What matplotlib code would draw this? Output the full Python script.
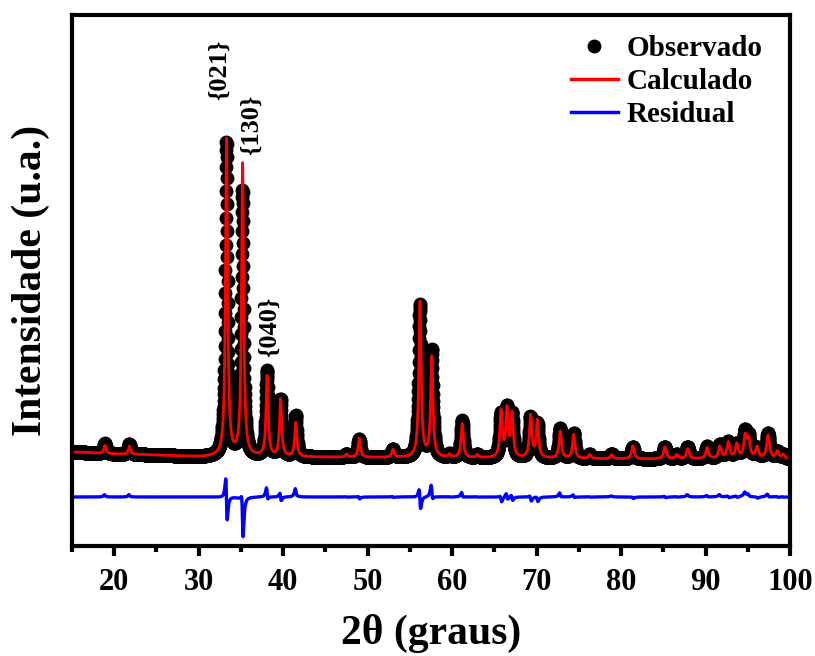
import numpy as np
import matplotlib
matplotlib.use("Agg")
import matplotlib.pyplot as plt
from matplotlib.lines import Line2D

plt.rcParams['font.family'] = ['Liberation Serif', 'DejaVu Serif']
plt.rcParams['font.weight'] = 'bold'

# ---- data (arbitrary intensity units) ----
peak_pos = [18.9, 21.8, 33.3, 35.2, 38.1, 39.7, 41.5, 47.5, 49.0, 53.0,
            56.2, 57.6, 59.7, 61.2, 63.0, 65.8, 66.5, 67.1, 69.3, 70.1,
            72.8, 74.4, 76.3, 78.9, 81.4, 85.2, 86.6, 87.9, 90.2, 91.7,
            92.7, 93.7, 94.7, 95.1, 96.1, 97.4, 98.5, 99.2]
obs_height = [10, 10, 314, 265, 85, 57, 41, 3, 18, 8,
              152, 107, 3, 37, 3, 43, 48, 42, 40, 34,
              30, 25, 4, 5, 12, 12, 4, 12, 12, 14,
              16, 14, 25, 20, 10, 25, 7, 4]
calc_height = [8, 8, 317, 292, 80, 57, 34, 3, 19, 8,
               155, 100, 3, 34, 3, 46, 47, 43, 42, 37,
               27, 24, 4, 4, 13, 12, 4, 10, 11, 12,
               16, 14, 21, 18, 11, 23, 7, 4]
fwhm = [0.30, 0.30, 0.30, 0.30, 0.30, 0.30, 0.30, 0.30, 0.32, 0.32,
        0.32, 0.32, 0.32, 0.33, 0.33, 0.33, 0.33, 0.33, 0.34, 0.34,
        0.34, 0.35, 0.35, 0.36, 0.36, 0.37, 0.37, 0.38, 0.38, 0.39,
        0.39, 0.39, 0.40, 0.40, 0.40, 0.40, 0.41, 0.41]
bg_x = [15, 20, 25, 30, 40, 60, 80, 100]
bg_y = [94, 92, 91, 89, 89, 88, 87, 87]
obs_shift = -0.015         # small zero-shift of the observed pattern
residual_offset = 49
step = 0.02

labels_hkl = ['{021}', '{130}', '{040}']
labels_x = [32.4, 36.3, 38.4]
labels_y = [446, 391, 189]

# ---- build patterns ----
tt = np.arange(15.0, 100.0 + step / 2, step)


def pattern(heights, shift):
    y = np.interp(tt, bg_x, bg_y).astype(float)
    for p, h, w in zip(peak_pos, heights, fwhm):
        g = w / 2.0
        y += h * g**2 / ((tt - p - shift)**2 + g**2)
    return y


y_obs = pattern(obs_height, obs_shift)
y_calc = pattern(calc_height, 0.0)
y_res = y_obs - y_calc + residual_offset

# ---- figure ----
fig = plt.figure(figsize=(8.15, 6.56), dpi=100)
ax = fig.add_axes([0.0883, 0.1677, 0.881, 0.8094])

ax.plot(tt, y_obs, 'o', color='black', ms=10, mew=0, zorder=1)
ax.plot(tt, y_calc, '-', color='#ff0000', lw=2.0, zorder=2)
ax.plot(tt, y_res, '-', color='#0000ff', lw=2.4, zorder=2)

ax.set_xlim(15, 100)
ax.set_ylim(0, 531)
ax.set_yticks([])
ax.set_xticks(np.arange(20, 101, 10))
ax.set_xticks(np.arange(15, 101, 5), minor=True)
ax.tick_params(axis='x', which='major', direction='out', length=7, width=3,
               labelsize=22, pad=9)
ax.tick_params(axis='x', which='minor', direction='out', length=4, width=3)
for lab in ax.get_xticklabels():
    lab.set_fontweight('bold')
for s in ax.spines.values():
    s.set_linewidth(3)

ax.set_xlabel('2θ (graus)', fontsize=30, fontweight='bold', labelpad=12)
ax.set_ylabel('Intensidade (u.a.)', fontsize=30, fontweight='bold', labelpad=16)

for t, x, y in zip(labels_hkl, labels_x, labels_y):
    ax.text(x, y, t, rotation=90, ha='center', va='bottom', fontsize=19,
            fontweight='bold')

handles = [Line2D([], [], ls='none', marker='o', color='black', ms=10, mew=0),
           Line2D([], [], color='#ff0000', lw=2.5),
           Line2D([], [], color='#0000ff', lw=2.5)]
ax.legend(handles, ['Observado', 'Calculado', 'Residual'], loc='upper right',
          frameon=False, prop={'size': 21, 'weight': 'bold'},
          handlelength=1.6, handletextpad=0.3, labelspacing=0.2,
          borderaxespad=0.3, bbox_to_anchor=(0.99, 1.0))

fig.savefig('out.png', dpi=100)
